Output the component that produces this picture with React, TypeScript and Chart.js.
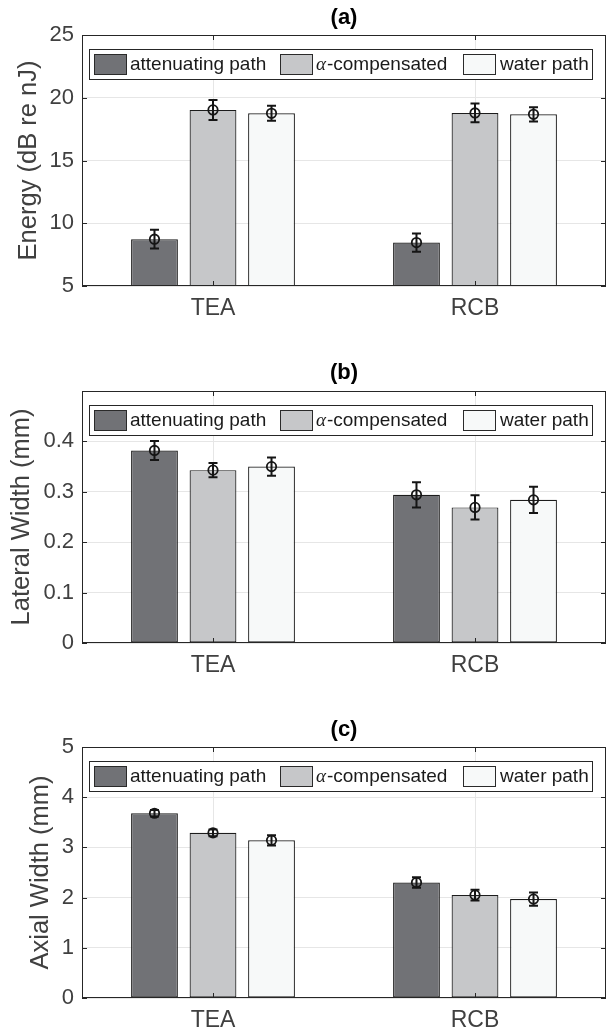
import React, { useEffect, useRef } from 'react';
import { Chart, registerables } from 'chart.js';

Chart.register(...registerables);

// ---------- data ----------
const categories = ['TEA', 'RCB'];
const seriesLabels = ['attenuating path', 'α-compensated', 'water path'];
const seriesColors = ['#717276', '#c6c7c9', '#f7f9f9'];

// (a) Energy (dB re nJ)
const energyAttenuating = [8.73, 8.46];
const energyCompensated = [19.03, 18.79];
const energyWater = [18.76, 18.68];
const energyAttenuatingErr = [0.75, 0.73];
const energyCompensatedErr = [0.8, 0.75];
const energyWaterErr = [0.6, 0.57];

// (b) Lateral Width (mm)
const lateralAttenuating = [0.382, 0.294];
const lateralCompensated = [0.343, 0.269];
const lateralWater = [0.35, 0.284];
const lateralAttenuatingErr = [0.019, 0.025];
const lateralCompensatedErr = [0.014, 0.024];
const lateralWaterErr = [0.018, 0.026];

// (c) Axial Width (mm)
const axialAttenuating = [3.68, 2.3];
const axialCompensated = [3.29, 2.05];
const axialWater = [3.14, 1.97];
const axialAttenuatingErr = [0.066, 0.106];
const axialCompensatedErr = [0.066, 0.106];
const axialWaterErr = [0.1, 0.13];

// y-axis ranges / tick steps
const energyAxis = [5, 25, 5];
const lateralAxis = [0, 0.5, 0.1];
const axialAxis = [0, 5, 1];

const FONT = "'Liberation Sans', Arial, Helvetica, sans-serif";
const AXIS_COLOR = '#262626';
const TEXT_COLOR = '#404040';

type PanelCfg = {
  title: string;
  yLabel: string;
  values: number[][];
  errors: number[][];
  axis: number[];
  hideTop: boolean;
  canvasTop: number;
  height: number;
  areaTop: number;
  areaBottom: number;
  titleY: number;
  yTitlePad: number;
};

const panels: PanelCfg[] = [
  {
    title: '(a)',
    yLabel: 'Energy (dB re nJ)',
    values: [energyAttenuating, energyCompensated, energyWater],
    errors: [energyAttenuatingErr, energyCompensatedErr, energyWaterErr],
    axis: energyAxis,
    hideTop: false,
    canvasTop: 0,
    height: 340,
    areaTop: 35,
    areaBottom: 286,
    titleY: 18,
    yTitlePad: 13.5,
  },
  {
    title: '(b)',
    yLabel: 'Lateral Width (mm)',
    values: [lateralAttenuating, lateralCompensated, lateralWater],
    errors: [lateralAttenuatingErr, lateralCompensatedErr, lateralWaterErr],
    axis: lateralAxis,
    hideTop: true,
    canvasTop: 340,
    height: 345,
    areaTop: 51,
    areaBottom: 303,
    titleY: 33,
    yTitlePad: 7,
  },
  {
    title: '(c)',
    yLabel: 'Axial Width (mm)',
    values: [axialAttenuating, axialCompensated, axialWater],
    errors: [axialAttenuatingErr, axialCompensatedErr, axialWaterErr],
    axis: axialAxis,
    hideTop: false,
    canvasTop: 685,
    height: 349,
    areaTop: 62,
    areaBottom: 313,
    titleY: 45,
    yTitlePad: 26,
  },
];

function makeOverlay(cfg: PanelCfg) {
  return {
    id: 'overlay' + cfg.title,
    afterDatasetsDraw(chart: any) {
      const ctx = chart.ctx as CanvasRenderingContext2D;
      const ca = chart.chartArea;
      const ys = chart.scales.y;
      const xs = chart.scales.x;
      ctx.save();

      // error bars + circle markers
      ctx.strokeStyle = '#151515';
      for (let d = 0; d < cfg.values.length; d++) {
        const meta = chart.getDatasetMeta(d);
        meta.data.forEach((bar: any, i: number) => {
          const v = cfg.values[d][i];
          const e = cfg.errors[d][i];
          const x = bar.x;
          const yLo = ys.getPixelForValue(v - e);
          const yHi = ys.getPixelForValue(v + e);
          const yc = ys.getPixelForValue(v);
          ctx.lineWidth = 2;
          ctx.beginPath();
          ctx.moveTo(x, yLo);
          ctx.lineTo(x, yHi);
          ctx.moveTo(x - 4.5, yLo);
          ctx.lineTo(x + 4.5, yLo);
          ctx.moveTo(x - 4.5, yHi);
          ctx.lineTo(x + 4.5, yHi);
          ctx.stroke();
          ctx.lineWidth = 1.8;
          ctx.beginPath();
          ctx.arc(x, yc, 4.7, 0, Math.PI * 2);
          ctx.stroke();
        });
      }

      // axes box
      ctx.strokeStyle = AXIS_COLOR;
      ctx.lineWidth = 1;
      ctx.strokeRect(ca.left + 0.5, ca.top + 0.5, ca.right - ca.left - 1, ca.bottom - ca.top - 1);

      // inward tick marks
      ctx.beginPath();
      ys.ticks.forEach((t: any) => {
        const py = Math.round(ys.getPixelForValue(t.value)) + 0.5;
        ctx.moveTo(ca.left, py);
        ctx.lineTo(ca.left + 5, py);
        ctx.moveTo(ca.right, py);
        ctx.lineTo(ca.right - 5, py);
      });
      categories.forEach((_, i) => {
        const px = Math.round(xs.getPixelForValue(i)) + 0.5;
        ctx.moveTo(px, ca.bottom);
        ctx.lineTo(px, ca.bottom - 5);
        ctx.moveTo(px, ca.top);
        ctx.lineTo(px, ca.top + 5);
      });
      ctx.stroke();

      // legend
      const lx = ca.left + 7;
      const ly = ca.top + 14;
      const lw = ca.right - 14 - lx;
      const lh = 30;
      ctx.fillStyle = '#ffffff';
      ctx.fillRect(lx, ly, lw, lh);
      ctx.strokeStyle = AXIS_COLOR;
      ctx.strokeRect(lx + 0.5, ly + 0.5, lw, lh);
      const swatchX = [5, 191, 374];
      const textX = [41, 227, 411];
      ctx.textBaseline = 'middle';
      ctx.textAlign = 'left';
      seriesLabels.forEach((label, k) => {
        ctx.fillStyle = seriesColors[k];
        ctx.fillRect(lx + swatchX[k], ly + 5, 32, 20);
        ctx.strokeStyle = '#2a2a2a';
        ctx.strokeRect(lx + swatchX[k] + 0.5, ly + 5.5, 32, 20);
        ctx.fillStyle = '#1a1a1a';
        let tx = lx + textX[k];
        const ty = ly + 16;
        let rest = label;
        if (label.startsWith('α')) {
          ctx.font = "italic 19px 'Liberation Serif', 'DejaVu Serif', serif";
          ctx.fillText('α', tx, ty);
          tx += ctx.measureText('α').width + 1;
          rest = label.slice(1);
        }
        ctx.font = '19px ' + FONT;
        ctx.fillText(rest, tx, ty);
      });

      // title
      ctx.fillStyle = '#000000';
      ctx.font = 'bold 22px ' + FONT;
      ctx.textAlign = 'center';
      ctx.fillText(cfg.title, (ca.left + ca.right) / 2, cfg.titleY);

      ctx.restore();
    },
  };
}

function Panel({ cfg }: { cfg: PanelCfg }) {
  const ref = useRef<HTMLCanvasElement>(null);
  useEffect(() => {
    const canvas = ref.current;
    if (!canvas) return;
    const [yMin, yMax, yStep] = cfg.axis;
    const chart = new Chart(canvas, {
      type: 'bar',
      data: {
        labels: categories,
        datasets: seriesLabels.map((label, k) => ({
          label,
          data: cfg.values[k],
          backgroundColor: seriesColors[k],
          borderColor: '#1c1c1c',
          borderWidth: 1.2,
          borderSkipped: false,
          categoryPercentage: 0.67,
          barPercentage: 0.8,
        })),
      },
      options: {
        responsive: false,
        animation: false,
        devicePixelRatio: 1,
        layout: { padding: { top: cfg.areaTop, right: 7, bottom: 0, left: 0 } },
        plugins: {
          legend: { display: false },
          title: { display: false },
          tooltip: { enabled: false },
        },
        scales: {
          x: {
            afterFit: (s: any) => {
              s.height = cfg.height - cfg.areaBottom;
            },
            grid: { display: true, offset: false, color: '#e6e6e6', drawTicks: false },
            border: { display: false },
            ticks: {
              color: TEXT_COLOR,
              font: { family: FONT, size: 23 },
              padding: 9,
            },
          },
          y: {
            min: yMin,
            max: yMax,
            afterFit: (s: any) => {
              s.width = 82;
            },
            grid: { color: '#e6e6e6', drawTicks: false },
            border: { display: false },
            ticks: {
              stepSize: yStep,
              color: TEXT_COLOR,
              font: { family: FONT, size: 22 },
              padding: 8,
              callback: (v: any) => {
                const n = Number(v);
                if (cfg.hideTop && Math.abs(n - yMax) < 1e-9) return '';
                return String(Math.round(n * 1000) / 1000);
              },
            },
            title: {
              display: true,
              text: cfg.yLabel,
              color: TEXT_COLOR,
              font: { family: FONT, size: 25.5 },
              padding: { top: cfg.yTitlePad, bottom: 0 },
            },
          },
        },
      },
      plugins: [makeOverlay(cfg)],
    } as any);
    return () => chart.destroy();
  }, [cfg]);
  return (
    <canvas
      ref={ref}
      width={613}
      height={cfg.height}
      style={{ position: 'absolute', left: 0, top: cfg.canvasTop, width: 613, height: cfg.height }}
    />
  );
}

export default function App() {
  return (
    <div style={{ position: 'absolute', left: 0, top: 0, width: 613, height: 1034, background: '#ffffff' }}>
      {panels.map((p) => (
        <Panel key={p.title} cfg={p} />
      ))}
    </div>
  );
}
